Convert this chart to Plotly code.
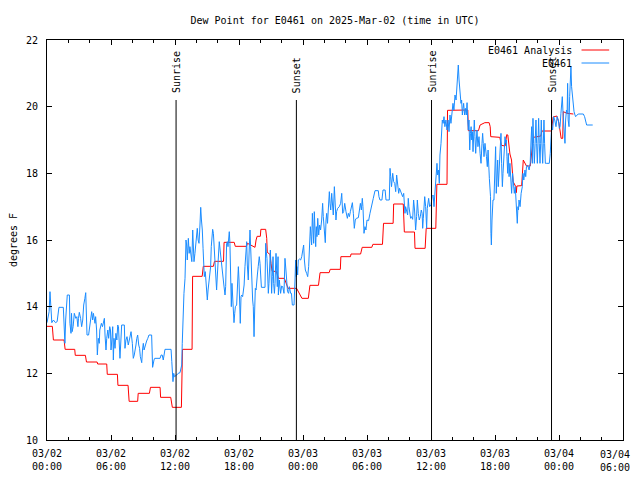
import pandas as pd
import plotly.graph_objects as go

title_text = "Dew Point for E0461 on 2025-Mar-02 (time in UTC)"
start = pd.Timestamp("2025-03-02 00:00")
end = pd.Timestamp("2025-03-04 06:00")

# (hours since start, dew point F) - station analysis
analysis_points = [
    (0.0, 13.41), (0.5, 13.41), (0.6, 13.0), (1.6, 13.0), (1.7, 12.72), (2.6, 12.72),
    (2.65, 12.54), (3.6, 12.54), (3.7, 12.34), (4.7, 12.34), (4.75, 12.28), (5.6, 12.28),
    (5.65, 11.97), (6.6, 11.97), (6.65, 11.64), (7.6, 11.64), (7.7, 11.16), (8.5, 11.16),
    (8.55, 11.4), (9.6, 11.4), (9.7, 11.58), (10.6, 11.58), (10.65, 11.28), (11.6, 11.28),
    (11.75, 10.98), (12.6, 10.98), (12.7, 12.72), (13.6, 12.72), (13.65, 14.91), (14.55, 14.91),
    (14.65, 15.21), (15.6, 15.21), (15.7, 15.36), (16.55, 15.36), (16.6, 15.93), (17.55, 15.93),
    (17.65, 15.81), (18.7, 15.81), (18.8, 15.9), (19.5, 15.78), (19.6, 16.0), (19.7, 16.11),
    (20.0, 16.11), (20.05, 16.32), (20.5, 16.32), (20.6, 16.05), (20.65, 15.63), (20.9, 15.57),
    (21.0, 15.3), (21.1, 15.06), (21.5, 15.06), (21.7, 14.85), (22.25, 14.85), (22.35, 14.77),
    (22.6, 14.55), (23.4, 14.55), (23.55, 14.45), (23.9, 14.25), (24.5, 14.25), (24.65, 14.64),
    (25.45, 14.64), (25.6, 15.02), (26.45, 15.02), (26.55, 15.12), (27.5, 15.12), (27.55, 15.5),
    (28.45, 15.5), (28.5, 15.58), (29.4, 15.58), (29.55, 15.78), (30.45, 15.78), (30.55, 15.87),
    (31.45, 15.87), (31.55, 16.5), (32.45, 16.5), (32.5, 17.08), (33.4, 17.08), (33.5, 16.24),
    (34.45, 16.24), (34.5, 15.75), (35.45, 15.75), (35.55, 16.35), (36.45, 16.35), (36.55, 17.67),
    (37.5, 17.67), (37.55, 19.89), (39.45, 19.9), (39.5, 19.28), (40.45, 19.28), (40.6, 19.45),
    (41.05, 19.52), (41.45, 19.52), (41.55, 19.4), (41.6, 19.1), (42.45, 19.08), (42.6, 18.84),
    (42.95, 18.82), (43.1, 19.16), (43.2, 19.15), (43.4, 18.58), (43.55, 18.4), (43.7, 17.75),
    (43.95, 17.6), (44.0, 17.42), (44.05, 17.62), (44.5, 17.63), (44.65, 18.4), (44.95, 18.22),
    (45.3, 18.22), (45.45, 18.64), (45.6, 19.08), (46.3, 19.12), (46.4, 19.27), (47.3, 19.27),
    (47.45, 19.69), (47.8, 19.72), (48.0, 19.5), (48.2, 19.05), (48.35, 19.05), (48.4, 19.85),
    (48.75, 19.8), (49.35, 19.78),
]

# (hours since start, dew point F) - station observations
obs_points = [
    (0.0, 13.52), (0.2, 13.85), (0.28, 14.45), (0.35, 13.81), (0.45, 13.52), (0.6, 13.6),
    (0.8, 13.52), (0.95, 13.55), (1.06, 13.8), (1.12, 13.98), (1.53, 13.98), (1.62, 13.15),
    (1.68, 12.9), (1.75, 13.6), (1.82, 14.0), (1.9, 14.35), (2.1, 14.35), (2.15, 13.5),
    (2.25, 13.2), (2.3, 13.8), (2.36, 13.25), (2.45, 13.4), (2.56, 13.8), (2.7, 13.65),
    (2.8, 13.7), (2.9, 13.4), (2.95, 13.65), (3.03, 13.83), (3.15, 13.65), (3.25, 13.4),
    (3.35, 13.6), (3.44, 14.05), (3.55, 14.25), (3.63, 14.42), (3.68, 13.9), (3.75, 13.15),
    (3.9, 13.15), (4.0, 13.4), (4.1, 13.6), (4.19, 13.85), (4.28, 13.6), (4.35, 13.8),
    (4.5, 13.5), (4.56, 13.7), (4.65, 13.3), (4.72, 12.55), (4.81, 13.05), (4.9, 12.9),
    (4.95, 13.3), (5.1, 13.5), (5.2, 13.4), (5.31, 13.65), (5.38, 13.65), (5.44, 13.15),
    (5.53, 12.7), (5.6, 13.05), (5.7, 13.3), (5.78, 13.05), (5.88, 13.4), (5.95, 13.3),
    (6.0, 12.7), (6.08, 13.0), (6.16, 13.4), (6.22, 12.4), (6.28, 13.05), (6.38, 12.75),
    (6.46, 13.2), (6.55, 13.0), (6.63, 13.45), (6.7, 13.4), (6.78, 12.9), (6.84, 12.45),
    (6.93, 13.0), (7.0, 13.45), (7.25, 13.45), (7.31, 12.75), (7.4, 13.0), (7.5, 13.1),
    (7.62, 12.85), (7.72, 13.05), (7.8, 13.15), (7.88, 13.25), (8.0, 12.9), (8.09, 12.45),
    (8.18, 12.55), (8.25, 12.65), (8.34, 12.85), (8.42, 13.05), (8.5, 13.15), (8.6, 12.85),
    (8.68, 12.75), (8.75, 12.5), (8.88, 12.32), (8.95, 12.7), (9.03, 12.9), (9.1, 12.7),
    (9.2, 12.85), (9.34, 12.97), (9.45, 13.05), (9.56, 13.15), (9.81, 13.15), (9.87, 12.7),
    (9.9, 12.18), (10.03, 12.4), (10.1, 12.45), (10.6, 12.45), (10.7, 12.55), (10.8, 12.55),
    (10.9, 12.4), (11.06, 12.72), (11.63, 12.72), (11.7, 12.35), (11.75, 11.9), (11.81, 11.75),
    (11.88, 12.0), (11.95, 11.9), (12.16, 11.95), (12.3, 12.0), (12.47, 12.02), (12.55, 12.2),
    (12.63, 12.25), (12.68, 12.9), (12.72, 13.45), (12.78, 13.8), (12.84, 14.4), (12.94, 14.85),
    (13.03, 16.0), (13.09, 15.85), (13.15, 15.4), (13.25, 16.05), (13.33, 15.6), (13.4, 15.8),
    (13.5, 15.4), (13.58, 15.35), (13.66, 16.3), (13.72, 15.9), (13.78, 15.35), (13.87, 15.6),
    (13.95, 15.9), (14.03, 16.15), (14.09, 16.35), (14.17, 16.0), (14.25, 15.9), (14.34, 16.45),
    (14.41, 16.98), (14.48, 16.6), (14.56, 16.3), (14.63, 15.75), (14.69, 15.1), (14.75, 14.9),
    (14.84, 15.05), (14.91, 14.6), (14.97, 14.45), (15.03, 14.2), (15.1, 14.5), (15.19, 14.8),
    (15.28, 15.05), (15.34, 15.2), (15.4, 15.8), (15.47, 16.25), (15.53, 16.32), (15.6, 16.2),
    (15.66, 15.9), (15.72, 15.7), (15.78, 15.3), (15.84, 14.9), (15.9, 14.5), (15.97, 14.95),
    (16.06, 15.55), (16.15, 15.95), (16.28, 15.55), (16.37, 15.2), (16.47, 14.85), (16.58, 14.65),
    (16.69, 14.35), (16.75, 14.6), (16.84, 15.9), (16.9, 15.95), (16.97, 15.8), (17.09, 16.25),
    (17.15, 15.9), (17.22, 15.2), (17.28, 14.0), (17.34, 14.7), (17.4, 14.2), (17.47, 13.8),
    (17.53, 13.52), (17.6, 13.8), (17.66, 14.0), (17.78, 14.05), (17.88, 14.7), (17.94, 15.2),
    (18.0, 14.8), (18.06, 13.8), (18.12, 13.5), (18.19, 14.3), (18.25, 14.35), (18.34, 14.3),
    (18.41, 14.5), (18.48, 14.65), (18.56, 15.2), (18.66, 15.85), (18.72, 15.95), (18.78, 15.25),
    (18.87, 14.8), (18.94, 15.55), (19.03, 16.3), (19.09, 15.8), (19.16, 15.0), (19.22, 14.4),
    (19.28, 14.2), (19.34, 14.0), (19.41, 13.1), (19.47, 13.9), (19.53, 14.55), (19.6, 14.5),
    (19.66, 14.85), (19.72, 14.95), (19.8, 15.2), (19.9, 15.5), (19.97, 15.3), (20.03, 14.6),
    (20.1, 14.58), (20.44, 14.58), (20.5, 15.9), (20.56, 15.65), (20.62, 15.45), (20.69, 14.95),
    (20.75, 14.4), (20.81, 14.7), (20.88, 15.2), (20.94, 15.7), (21.0, 15.1), (21.06, 14.4),
    (21.12, 14.9), (21.19, 15.5), (21.25, 14.7), (21.32, 14.4), (21.38, 14.7), (21.47, 15.6),
    (21.53, 15.1), (21.59, 14.6), (21.66, 15.5), (21.69, 14.35), (21.78, 14.8), (21.85, 14.6),
    (21.9, 14.4), (22.0, 14.62), (22.1, 14.6), (22.22, 14.4), (22.31, 15.45), (22.4, 15.1),
    (22.47, 14.6), (22.55, 14.45), (22.65, 14.4), (22.72, 14.6), (22.84, 14.4), (22.92, 14.4),
    (23.0, 14.05), (23.16, 14.05), (23.25, 14.8), (23.31, 15.4), (23.37, 14.9), (23.44, 15.2),
    (23.5, 14.95), (23.56, 15.4), (23.66, 15.43), (23.78, 15.4), (23.88, 15.5), (23.97, 15.7),
    (24.06, 15.85), (24.13, 15.4), (24.22, 15.1), (24.34, 15.0), (24.44, 14.9), (24.53, 15.2),
    (24.63, 15.8), (24.69, 16.4), (24.75, 16.1), (24.81, 15.85), (24.88, 16.8), (24.94, 16.5),
    (25.0, 15.9), (25.06, 16.85), (25.12, 16.2), (25.19, 15.8), (25.25, 16.4), (25.31, 16.1),
    (25.38, 16.65), (25.47, 16.15), (25.56, 16.45), (25.65, 16.3), (25.75, 16.6), (25.84, 17.1),
    (25.9, 16.7), (26.0, 16.1), (26.09, 15.92), (26.16, 16.6), (26.22, 16.8), (26.3, 16.5),
    (26.41, 17.1), (26.47, 17.45), (26.53, 17.1), (26.6, 16.9), (26.69, 17.4), (26.78, 17.1),
    (26.84, 16.75), (26.94, 17.6), (27.0, 17.3), (27.09, 16.6), (27.15, 16.85), (27.25, 16.95),
    (27.4, 17.0), (27.53, 17.1), (27.63, 17.4), (27.72, 16.8), (27.81, 16.85), (27.91, 17.1),
    (28.03, 16.85), (28.16, 16.65), (28.25, 16.8), (28.35, 16.7), (28.44, 16.85), (28.53, 17.0),
    (28.63, 17.12), (28.72, 16.8), (28.81, 16.35), (28.9, 16.6), (29.0, 16.65), (29.19, 16.67),
    (29.28, 16.95), (29.38, 17.1), (29.47, 16.9), (29.56, 17.25), (29.62, 17.0), (29.72, 16.2),
    (29.81, 16.4), (29.9, 16.3), (30.0, 16.6), (30.15, 16.58), (30.28, 16.8), (30.44, 17.1),
    (30.59, 17.25), (30.75, 17.48), (31.06, 17.48), (31.12, 17.3), (31.22, 17.2), (31.4, 17.2),
    (31.5, 17.5), (31.7, 17.5), (31.78, 17.2), (32.09, 17.2), (32.16, 18.15), (32.22, 17.9),
    (32.3, 17.6), (32.41, 18.0), (32.5, 17.75), (32.6, 17.7), (32.69, 17.45), (32.78, 17.95),
    (32.88, 17.6), (32.97, 17.4), (33.05, 17.55), (33.12, 17.5), (33.25, 17.4), (33.34, 17.3),
    (33.44, 17.4), (33.5, 17.1), (33.56, 16.8), (33.62, 17.0), (33.7, 16.85), (33.81, 16.75),
    (33.87, 17.25), (33.93, 17.0), (34.09, 16.65), (34.18, 16.7), (34.28, 16.62), (34.37, 17.2),
    (34.46, 16.9), (34.56, 16.3), (34.65, 16.7), (34.72, 17.2), (34.81, 16.8), (34.9, 16.6),
    (35.0, 16.7), (35.09, 16.9), (35.17, 16.8), (35.22, 16.35), (35.28, 16.65), (35.41, 17.3),
    (35.5, 17.0), (35.59, 16.35), (35.65, 16.95), (35.78, 17.25), (35.87, 17.0), (36.0, 17.05),
    (36.1, 17.3), (36.2, 17.35), (36.28, 17.0), (36.35, 17.4), (36.42, 17.6), (36.47, 17.9),
    (36.53, 18.25), (36.56, 18.3), (36.62, 17.95), (36.7, 18.1), (36.78, 17.7), (36.84, 18.55),
    (36.94, 18.9), (37.0, 19.4), (37.06, 19.6), (37.14, 19.5), (37.22, 19.7), (37.3, 19.4),
    (37.4, 19.6), (37.5, 19.3), (37.6, 19.6), (37.69, 19.25), (37.78, 19.75), (37.87, 19.5),
    (37.97, 19.9), (38.06, 20.1), (38.15, 19.9), (38.25, 20.35), (38.35, 20.2), (38.44, 20.6),
    (38.5, 20.9), (38.56, 21.25), (38.63, 20.8), (38.69, 20.6), (38.75, 20.3), (38.81, 20.1),
    (38.87, 20.2), (38.94, 19.75), (39.0, 19.95), (39.06, 20.1), (39.15, 19.75), (39.22, 19.95),
    (39.31, 19.75), (39.38, 20.12), (39.44, 19.6), (39.5, 19.3), (39.56, 19.6), (39.63, 18.7),
    (39.7, 19.2), (39.76, 19.4), (39.82, 19.0), (39.88, 19.25), (39.94, 18.65), (40.0, 19.1),
    (40.06, 19.6), (40.12, 19.1), (40.19, 18.6), (40.25, 19.0), (40.31, 19.3), (40.4, 18.8),
    (40.5, 19.1), (40.6, 18.6), (40.69, 18.3), (40.78, 18.9), (40.84, 19.2), (40.9, 18.9),
    (40.97, 18.5), (41.06, 18.9), (41.12, 18.6), (41.2, 18.5), (41.28, 18.2), (41.35, 18.7),
    (41.47, 17.85), (41.53, 17.6), (41.58, 17.3), (41.62, 16.2), (41.66, 15.85), (41.72, 16.6),
    (41.81, 17.2), (41.9, 17.2), (41.97, 17.9), (42.06, 18.8), (42.12, 17.4), (42.2, 18.0),
    (42.25, 18.4), (42.31, 17.6), (42.4, 18.2), (42.56, 19.2), (42.62, 18.3), (42.69, 17.6),
    (42.75, 18.0), (42.82, 18.4), (42.88, 18.6), (42.94, 19.1), (43.0, 18.9), (43.06, 19.0),
    (43.12, 18.5), (43.19, 18.0), (43.25, 18.6), (43.32, 17.9), (43.4, 18.3), (43.5, 17.7),
    (43.56, 17.4), (43.65, 18.0), (43.72, 17.8), (43.81, 17.4), (43.9, 17.6), (43.97, 17.2),
    (44.03, 16.8), (44.09, 16.5), (44.15, 17.0), (44.2, 16.9), (44.25, 17.2), (44.35, 17.0),
    (44.45, 17.4), (44.56, 17.6), (44.62, 18.0), (44.7, 17.8), (44.81, 18.1), (44.88, 17.9),
    (44.95, 18.2), (45.05, 18.25), (45.2, 18.1), (45.3, 18.3), (45.38, 19.0), (45.44, 19.4),
    (45.5, 18.3), (45.56, 19.65), (45.62, 18.9), (45.69, 18.3), (45.76, 18.9), (45.84, 19.6),
    (45.9, 18.9), (45.97, 18.3), (46.03, 18.9), (46.09, 19.65), (46.15, 18.9), (46.22, 18.3),
    (46.28, 18.9), (46.34, 19.6), (46.4, 18.9), (46.47, 18.3), (46.53, 18.9), (46.59, 19.6),
    (46.65, 18.9), (46.72, 18.3), (46.85, 18.3), (47.09, 18.3), (47.18, 18.6), (47.25, 19.0),
    (47.31, 19.4), (47.4, 19.3), (47.5, 19.7), (47.6, 19.6), (47.72, 19.4), (47.82, 19.7),
    (47.94, 19.6), (48.03, 19.35), (48.1, 19.4), (48.18, 19.8), (48.25, 20.0), (48.31, 20.3),
    (48.38, 19.8), (48.44, 19.4), (48.5, 19.2), (48.56, 18.9), (48.62, 19.6), (48.7, 19.9),
    (48.76, 19.8), (48.81, 20.7), (48.86, 19.6), (48.94, 19.4), (49.0, 20.3), (49.06, 20.9),
    (49.12, 21.2), (49.18, 20.6), (49.25, 20.3), (49.32, 20.0), (49.41, 19.85), (49.5, 19.75),
    (49.56, 19.7), (49.8, 19.78), (50.28, 19.78), (50.4, 19.7), (50.59, 19.45), (51.16, 19.45),
]

sun_events = ["Sunrise", "Sunset", "Sunrise", "Sunset"]
sun_hours = [12.1, 23.38, 36.05, 47.3]
sun_line_top = 20.2

series_names = ["E0461 Analysis", "E0461"]
series_colors = ["#ff0000", "#1a8cff"]

y_min, y_max, y_step = 10, 22, 2

# x tick positions (every 6 h) and their labels
x_tick_times = list(pd.date_range(start, end, freq="6h"))
x_tick_labels = [t.strftime("%m/%d<br>%H:%M") for t in x_tick_times]

FONT = "DejaVu Sans Mono"

# the page body adds an 8px offset; size the figure so the frame lands where the reference has it
FIG_W, FIG_H = 632, 464


def to_time(h):
    return start + pd.to_timedelta(h, unit="h")


fig = go.Figure()
for pts, name, color in zip([analysis_points, obs_points], series_names, series_colors):
    fig.add_trace(go.Scatter(
        x=[to_time(h) for h, _ in pts],
        y=[v for _, v in pts],
        mode="lines",
        name=name,
        line=dict(color=color, width=1),
        showlegend=False,
    ))

for ev, h in zip(sun_events, sun_hours):
    t = to_time(h)
    fig.add_shape(type="line", xref="x", yref="y", x0=t, x1=t, y0=y_min, y1=sun_line_top,
                  line=dict(color="black", width=1))
    fig.add_annotation(x=t, y=sun_line_top, xref="x", yref="y", text=ev, textangle=-90,
                       showarrow=False, xanchor="center", yanchor="bottom", yshift=5,
                       font=dict(family=FONT, size=10, color="black"))

# gnuplot-style key: text right-aligned, sample line to the right
key_rows = [0.975, 0.9425]
for name, color, yk in zip(series_names, series_colors, key_rows):
    fig.add_annotation(x=0.915, y=yk, xref="paper", yref="paper", text=name,
                       showarrow=False, xanchor="right", yanchor="middle",
                       font=dict(family=FONT, size=10, color="black"))
    fig.add_shape(type="line", xref="paper", yref="paper", x0=0.928, x1=0.976, y0=yk, y1=yk,
                  line=dict(color=color, width=1))

# the last tick label would be clipped at the page edge: draw it right-aligned instead
tick_text_axis = x_tick_labels[:-1] + [""]
fig.add_annotation(x=x_tick_times[-1], y=0, xref="x", yref="paper", text=x_tick_labels[-1],
                   showarrow=False, xanchor="right", yanchor="top", xshift=9, yshift=-7,
                   font=dict(family=FONT, size=10, color="black"))

fig.update_layout(
    width=FIG_W, height=FIG_H,
    margin=dict(l=39, r=17, t=32, b=32, autoexpand=False),
    paper_bgcolor="white", plot_bgcolor="white",
    font=dict(family=FONT, size=10, color="black"),
    title=dict(text=title_text, x=0.5, xref="paper", xanchor="center",
               y=1 - 12 / FIG_H, yref="container", yanchor="middle",
               font=dict(family=FONT, size=10, color="black")),
    showlegend=False,
)

fig.update_xaxes(
    type="date",
    range=[start, end],
    tickmode="array", tickvals=x_tick_times, ticktext=tick_text_axis,
    ticks="inside", ticklen=5, tickwidth=1, tickcolor="black",
    minor=dict(dtick=2 * 3600 * 1000, tick0=start, ticks="inside", ticklen=3,
               tickcolor="black", showgrid=False),
    showline=True, linecolor="black", linewidth=1, mirror="ticks",
    showgrid=False, zeroline=False, automargin=False,
    ticklabelstandoff=4, ticklabeloverflow="allow",
)
fig.update_yaxes(
    range=[y_min, y_max],
    tick0=y_min, dtick=y_step,
    ticks="inside", ticklen=5, tickwidth=1, tickcolor="black",
    showline=True, linecolor="black", linewidth=1, mirror="ticks",
    showgrid=False, zeroline=False, automargin=False,
    title=dict(text="degrees F", standoff=9, font=dict(family=FONT, size=10)),
    ticklabelstandoff=6,
)

fig.write_html("out.html")
